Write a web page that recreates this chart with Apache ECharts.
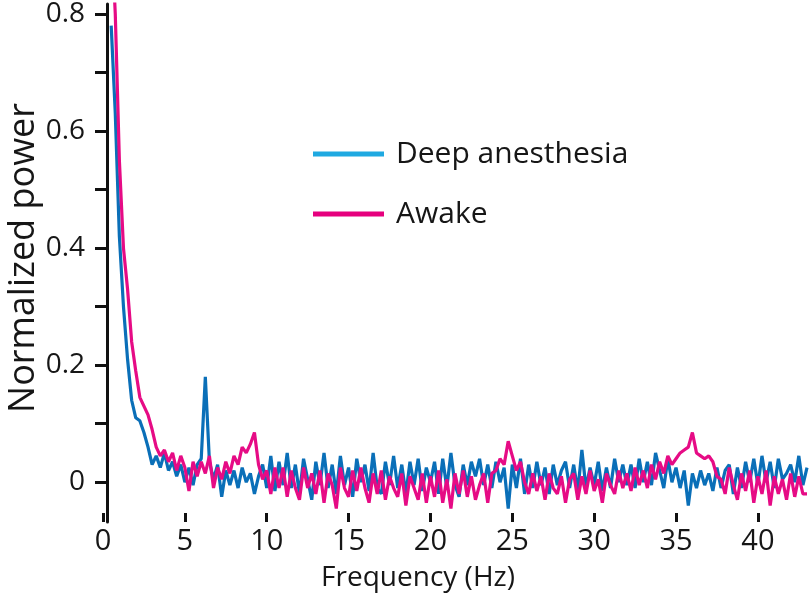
<!DOCTYPE html>
<html>
<head>
<meta charset="utf-8">
<script src="https://cdn.jsdelivr.net/npm/echarts@6/dist/echarts.min.js"></script>
<style>html,body{margin:0;padding:0;background:#fff}#c{width:810px;height:602px}</style>
</head>
<body>
<div id="c"></div>
<script>
// Frequency grid (Hz): first bin and bin spacing
const freqStart = 0.5;
const freqStep = 0.25;

const seriesNames = ['Deep anesthesia', 'Awake'];

// Normalized power, Deep anesthesia (blue)
const deepPower = [
  0.78, 0.63,
  0.42, 0.30, 0.21, 0.14,
  0.11, 0.105, 0.085, 0.06,
  0.03, 0.045, 0.025, 0.05,
  0.02, 0.035, 0.01, 0.03,
  0.0, 0.025, -0.005, 0.03,
  0.04, 0.18, 0.035, 0.005,
  0.03, -0.025, 0.02, -0.005,
  0.02, -0.01, 0.025, 0.0,
  0.015, -0.02, 0.01, 0.03,
  -0.01, 0.045, -0.015, 0.035,
  -0.005, 0.05, -0.01, 0.03,
  -0.02, 0.04, 0.005, -0.03,
  0.035, -0.005, 0.05, -0.01,
  0.03, -0.02, 0.045, -0.005,
  0.025, -0.025, 0.04, 0.0,
  0.03, -0.015, 0.05, -0.01,
  -0.02, 0.035, -0.005, 0.045,
  -0.01, 0.03, -0.02, 0.035,
  -0.005, 0.04, -0.015, 0.025,
  0.0, 0.035, -0.02, 0.04,
  -0.01, 0.05, -0.005, -0.025,
  0.03, -0.005, 0.035, 0.01,
  0.04, -0.005, 0.03, -0.01,
  0.035, 0.0, 0.025, -0.045,
  0.03, -0.01, 0.04, -0.02,
  0.03, -0.01, 0.035, -0.005,
  0.025, -0.02, 0.03, -0.005,
  0.02, 0.035, -0.01, 0.03,
  -0.015, 0.055, -0.01, 0.025,
  -0.005, 0.035, -0.015, 0.025,
  -0.01, 0.04, 0.0, 0.03,
  -0.005, 0.03, -0.01, 0.04,
  0.0, 0.035, -0.005, 0.05,
  0.02, -0.01, 0.04, 0.0,
  0.025, -0.01, 0.02, -0.04,
  0.015, -0.01, 0.02, -0.005,
  0.015, -0.015, 0.025, -0.01,
  0.02, 0.03, -0.02, 0.025,
  -0.01, 0.035, 0.0, 0.04,
  -0.005, 0.045, 0.0, 0.035,
  -0.01, 0.04, 0.005, 0.015,
  0.03, 0.0, 0.045, -0.005,
  0.025
];

// Normalized power, Awake (pink)
const awakePower = [
  0.95, 0.80,
  0.55, 0.40, 0.33, 0.24,
  0.19, 0.145, 0.13, 0.115,
  0.09, 0.06, 0.045, 0.055,
  0.035, 0.05, 0.02, 0.045,
  0.025, -0.015, 0.035, 0.01,
  0.035, 0.015, 0.045, -0.01,
  0.025, 0.005, 0.035, 0.015,
  0.045, 0.03, 0.06, 0.05,
  0.065, 0.085, 0.03, 0.005,
  0.02, -0.02, 0.025, -0.01,
  0.025, -0.025, 0.02, -0.01,
  -0.03, 0.025, -0.01, 0.015,
  -0.02, 0.02, -0.035, 0.015,
  -0.005, -0.045, 0.025, -0.01,
  -0.025, 0.02, -0.015, 0.025,
  -0.01, -0.035, 0.015, -0.02,
  0.02, -0.03, 0.01, -0.01,
  -0.025, 0.015, -0.04, 0.01,
  -0.01, -0.03, 0.015, -0.035,
  0.01, -0.025, 0.02, -0.035,
  0.005, -0.045, 0.015, -0.02,
  0.02, -0.025, 0.01, -0.03,
  -0.005, 0.015, -0.035, 0.015,
  0.02, 0.04, 0.03, 0.07,
  0.045, 0.02, 0.035, 0.0,
  -0.02, 0.015, -0.015, 0.01,
  -0.03, 0.015, -0.01, -0.02,
  0.01, -0.035, 0.005, 0.015,
  -0.03, 0.01, -0.02, 0.02,
  -0.015, 0.005, -0.035, 0.015,
  -0.005, -0.02, 0.02, -0.01,
  0.015, -0.015, 0.025, -0.005,
  0.02, -0.01, 0.03, 0.005,
  0.035, 0.015, 0.045, 0.03,
  0.04, 0.05, 0.055, 0.06,
  0.085, 0.05, 0.045, 0.04,
  0.045, 0.035, 0.01, 0.005,
  -0.02, 0.025, -0.005, -0.03,
  0.015, -0.015, 0.02, -0.035,
  0.01, -0.02, 0.02, -0.04,
  0.01, -0.02, 0.005, -0.03,
  0.015, -0.025, 0.01, -0.02,
  -0.02
];

const xTickValues = [0, 5, 10, 15, 20, 25, 30, 35, 40];
const yTickValues = [0, 0.1, 0.2, 0.3, 0.4, 0.5, 0.6, 0.7, 0.8];
const yLabelValues = [0, 0.2, 0.4, 0.6, 0.8];

const pair = arr => arr.map((v, i) => [freqStart + i * freqStep, v]);

const FONT = '"Open Sans", sans-serif';
const TXT = '#161616';
const chart = echarts.init(document.getElementById('c'), null, {renderer: 'canvas'});
chart.setOption({
  animation: false,
  backgroundColor: '#fff',
  grid: {left: 103, right: 3, top: 4, bottom: 80, containLabel: false, outerBoundsMode: 'none'},
  legend: {
    orient: 'vertical', left: 313, top: 139, itemGap: 30, padding: 0,
    itemWidth: 71, itemHeight: 5, icon: 'rect',
    textStyle: {fontFamily: FONT, fontSize: 30, lineHeight: 30, color: TXT, padding: [0, 0, 0, 7]},
    data: [
      {name: seriesNames[0], itemStyle: {color: '#1fa9e1'}},
      {name: seriesNames[1], itemStyle: {color: '#e6007e'}}
    ]
  },
  xAxis: {
    type: 'value', min: 0, max: 43,
    name: 'Frequency (Hz)', nameLocation: 'middle', nameGap: 42, nameMoveOverlap: false,
    nameTextStyle: {fontFamily: FONT, fontSize: 28, color: TXT, padding: [0, 74, 0, 0]},
    axisLine: {show: false, onZero: false},
    axisTick: {show: true, inside: true, length: 9, customValues: xTickValues,
      lineStyle: {color: '#111', width: 3}},
    axisLabel: {customValues: xTickValues, margin: 5,
      fontFamily: FONT, fontSize: 29, color: TXT},
    splitLine: {show: false}
  },
  yAxis: {
    type: 'value', min: -0.068, max: 0.817, offset: -4,
    name: 'Normalized power', nameLocation: 'middle', nameGap: 65, nameRotate: 90,
    nameMoveOverlap: false,
    nameTextStyle: {fontFamily: FONT, fontSize: 36, color: TXT, padding: [0, 0, 0, 10]},
    axisLine: {show: true, onZero: false, lineStyle: {color: '#111', width: 3}},
    axisTick: {show: true, inside: false, length: 12, customValues: yTickValues,
      lineStyle: {color: '#111', width: 3}},
    axisLabel: {customValues: yLabelValues, margin: 22,
      fontFamily: FONT, fontSize: 28, color: TXT},
    splitLine: {show: false}
  },
  series: [
    {name: seriesNames[0], type: 'line', data: pair(deepPower), showSymbol: false,
      symbol: 'none', clip: true, lineStyle: {color: '#0a6fb8', width: 3.2},
      itemStyle: {color: '#0a6fb8'}},
    {name: seriesNames[1], type: 'line', data: pair(awakePower), showSymbol: false,
      symbol: 'none', clip: true, lineStyle: {color: '#e60b85', width: 3.2},
      itemStyle: {color: '#e60b85'}}
  ]
});
</script>
</body>
</html>
